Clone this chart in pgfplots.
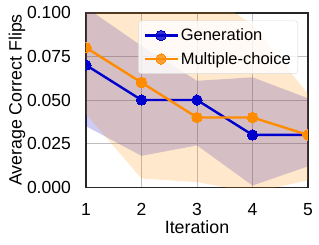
\documentclass[border=0pt]{standalone}
\usepackage{pgfplots}
\pgfplotsset{compat=1.18}
\usepgfplotslibrary{fillbetween}
\usepackage{fontspec}
\setmainfont{Liberation Sans}
\definecolor{genblue}{RGB}{0,0,205}
\definecolor{mcorange}{RGB}{255,140,0}
\definecolor{framecol}{RGB}{38,38,38}
\begin{document}
\begin{tikzpicture}
\begin{axis}[
  scale only axis, width=222pt, height=174.6pt,
  xmin=1, xmax=5, ymin=0, ymax=0.1,
  xtick={1,2,3,4,5}, ytick={0,0.025,0.05,0.075,0.1},
  scaled y ticks=false,
  /pgf/number format/assume math mode=true,
  yticklabel style={/pgf/number format/fixed, /pgf/number format/fixed zerofill, /pgf/number format/precision=3, xshift=-15pt},
  xticklabel style={yshift=-15.5pt},
  every tick label/.append style={font=\fontsize{17.5}{21}\selectfont, inner sep=0pt},
  major tick length=0pt,
  grid=major,
  grid style={color=black!25, line width=0.9pt},
  axis line style={framecol, line width=1.6pt},
  clip marker paths=true,
  xlabel={Iteration}, ylabel={Average Correct Flips},
  label style={font=\fontsize{17.8}{21}\selectfont, inner sep=0pt},
  xlabel style={at={(axis description cs:0.5,-0.2635)}, anchor=base},
  ylabel style={at={(axis description cs:-0.2896,0.5)}, anchor=base},
  legend style={at={(0.955,0.955)}, anchor=north east, draw=black!15, rounded corners=3pt,
    fill=white, fill opacity=0.8, text opacity=1,
    row sep=6pt, inner xsep=5pt, inner ysep=6pt, cells={anchor=west},
    nodes={font=\fontsize{16.5}{19}\selectfont}},
  legend image code/.code={\draw[mark repeat=2,mark phase=2,#1] plot coordinates {(0pt,0pt)(16.5pt,0pt)(33pt,0pt)};},
]
% Generation band
\addplot[name path=genU, draw=none, forget plot] coordinates {(1,0.103)(2,0.081)(3,0.061)(4,0.063)(5,0.051)};
\addplot[name path=genL, draw=none, forget plot] coordinates {(1,0.035)(2,0.018)(3,0.024)(4,0.001)(5,0.012)};
\addplot[fill=genblue, fill opacity=0.2, draw=none, forget plot] fill between[of=genU and genL];
% Multiple-choice band
\addplot[name path=mcU, draw=none, forget plot] coordinates {(1,0.13)(2,0.12)(3,0.115)(4,0.093)(5,0.0535)};
\addplot[name path=mcL, draw=none, forget plot] coordinates {(1,0.042)(2,0.005)(3,0.003)(4,-0.003)(5,0.004)};
\addplot[fill=mcorange, fill opacity=0.2, draw=none, forget plot] fill between[of=mcU and mcL];
% Lines
\addplot[genblue, line width=2.4pt, mark=*, mark size=5.2pt, mark options={fill=genblue, draw=genblue, line width=0pt}] coordinates {(1,0.07)(2,0.05)(3,0.05)(4,0.03)(5,0.03)};
\addlegendentry{Generation}
\addplot[mcorange, line width=2.4pt, mark=*, mark size=5.2pt, mark options={fill=mcorange, draw=mcorange, line width=0pt}] coordinates {(1,0.08)(2,0.06)(3,0.04)(4,0.04)(5,0.03)};
\addlegendentry{Multiple-choice}
\end{axis}
\pgfresetboundingbox
\path[use as bounding box] (-86pt,-56.7pt) rectangle (233pt,187.3pt);
\end{tikzpicture}
\end{document}
